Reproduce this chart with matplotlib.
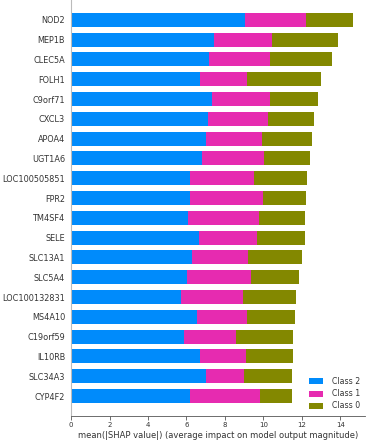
import matplotlib
matplotlib.use("Agg")
import matplotlib.pyplot as plt
import numpy as np

# features, top to bottom
features = [
    "NOD2", "MEP1B", "CLEC5A", "FOLH1", "C9orf71", "CXCL3", "APOA4", "UGT1A6",
    "LOC100505851", "FPR2", "TM4SF4", "SELE", "SLC13A1", "SLC5A4",
    "LOC100132831", "MS4A10", "C19orf59", "IL10RB", "SLC34A3", "CYP4F2",
]

# mean |SHAP| per class
class2 = [9.03, 7.45, 7.19, 6.68, 7.31, 7.12, 7.00, 6.81, 6.20, 6.16,
          6.06, 6.65, 6.30, 6.05, 5.73, 6.56, 5.87, 6.68, 7.01, 6.20]
class1 = [3.19, 2.98, 3.16, 2.49, 3.04, 3.12, 2.91, 3.21, 3.31, 3.81,
          3.73, 3.00, 2.88, 3.29, 3.21, 2.61, 2.71, 2.43, 1.98, 3.63]
class0 = [2.43, 3.46, 3.21, 3.80, 2.50, 2.38, 2.59, 2.38, 2.75, 2.22,
          2.36, 2.49, 2.80, 2.52, 2.74, 2.46, 2.95, 2.42, 2.50, 1.66]

class_names = ["Class 2", "Class 1", "Class 0"]
colors = ["#008bfb", "#e62bb0", "#838800"]

fig = plt.figure(figsize=(3.68, 4.40), dpi=100)
ax = fig.add_axes([0.193, 0.055, 0.80, 0.945])

n = len(features)
y = np.arange(n)[::-1]
left = np.zeros(n)
for vals, name, col in zip([class2, class1, class0], class_names, colors):
    vals = np.array(vals)
    ax.barh(y, vals, height=0.7, left=left, color=col, label=name)
    left = left + vals

ax.set_ylim(-1, n)
ax.set_xlim(0, 15.3)
ax.set_yticks(y)
ax.set_yticklabels(features, fontsize=5.9, color="#333333")
ax.set_xticks(np.arange(0, 15, 2))
ax.tick_params(axis="x", labelsize=5.0, labelcolor="#333333", color="#333333",
               length=3, width=0.5, pad=1.5)
ax.tick_params(axis="y", length=0, pad=4.3)

ax.spines["top"].set_visible(False)
ax.spines["right"].set_visible(False)
ax.spines["left"].set_color("#bbbbbb")
ax.spines["left"].set_linewidth(0.8)
ax.spines["bottom"].set_color("#555555")
ax.spines["bottom"].set_linewidth(0.6)

ax.set_xlabel("mean(|SHAP value|) (average impact on model output magnitude)",
              fontsize=6.0, color="#333333", labelpad=2)

ax.legend(loc="lower right", frameon=False, fontsize=5.6, handlelength=1.8,
          handleheight=0.8, handletextpad=1.1, borderaxespad=0.3,
          labelspacing=0.4, labelcolor="#333333", bbox_to_anchor=(1.0, 0.0))

fig.savefig("out.png", dpi=100)
